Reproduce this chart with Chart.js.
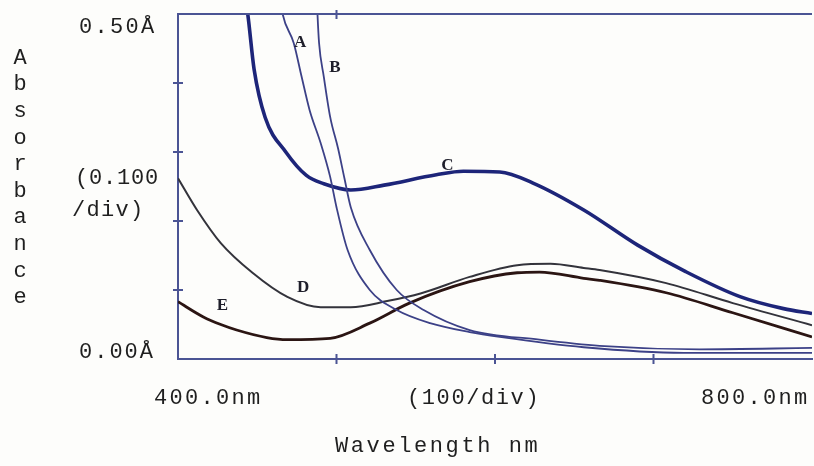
<!DOCTYPE html>
<html>
<head>
<meta charset="utf-8">
<script src="https://cdn.jsdelivr.net/npm/chart.js@4/dist/chart.umd.min.js"></script>
<style>
  html, body { margin: 0; padding: 0; background: #fdfdfb; }
  #wrap { width: 814px; height: 466px; position: relative; }
</style>
</head>
<body>
<div id="wrap"><canvas id="spectra"></canvas></div>
<script>
// wavelength (nm) / absorbance readings per curve
var wlA  = [462, 466, 473, 478, 483, 490, 496, 500, 507, 521, 538, 559, 584, 603, 656, 719, 800];
var absA = [0.56, 0.50, 0.458, 0.409, 0.361, 0.313, 0.264, 0.220, 0.158, 0.100, 0.071, 0.052, 0.039, 0.032, 0.017, 0.009, 0.009];

var wlB  = [487, 488, 489, 492, 496, 501, 505, 509, 521, 538, 555, 584, 628, 666, 729, 800];
var absB = [0.56, 0.50, 0.458, 0.409, 0.351, 0.305, 0.262, 0.220, 0.158, 0.100, 0.071, 0.042, 0.028, 0.019, 0.014, 0.016];

var wlC  = [438, 444, 448, 455, 468, 481, 492, 509, 530, 563, 580, 603, 624, 656, 690, 720, 755, 782, 800];
var absC = [0.58, 0.50, 0.42, 0.35, 0.30, 0.266, 0.254, 0.245, 0.252, 0.267, 0.272, 0.271, 0.255, 0.216, 0.165, 0.127, 0.090, 0.073, 0.066];

var wlD  = [400, 412, 427, 447, 469, 490, 509, 532, 553, 584, 614, 635, 656, 666, 708, 750, 800];
var absD = [0.262, 0.216, 0.168, 0.125, 0.090, 0.075, 0.075, 0.084, 0.095, 0.119, 0.136, 0.138, 0.132, 0.129, 0.110, 0.081, 0.049];

var wlE  = [400, 416, 427, 437, 456, 469, 496, 521, 546, 584, 614, 628, 656, 666, 708, 750, 800];
var absE = [0.083, 0.061, 0.050, 0.042, 0.031, 0.028, 0.030, 0.052, 0.081, 0.112, 0.125, 0.126, 0.117, 0.114, 0.096, 0.067, 0.032];

// curve letters: name, wavelength, absorbance
var curveNames = ["A", "B", "C", "D", "E"];
var nameWl     = [477, 499, 570, 479, 428];
var nameAbs    = [0.459, 0.423, 0.281, 0.103, 0.077];

var yTickLabels = ["0.50Å", "(0.100", "/div)", "0.00Å"];
var xTickLabels = ["400.0nm", "(100/div)", "800.0nm"];
var xTitle = "Wavelength nm";
var yTitle = "Absorbance";

var axisColor = '#4b5494';
var textColor = '#1f1f1f';

function pts(xs, ys) {
    var out = [];
    for (var i = 0; i < xs.length; i++) out.push({x: xs[i], y: ys[i]});
    return out;
}

function mkSet(label, xs, ys, color, width) {
    return {
        label: label, data: pts(xs, ys), borderColor: color, borderWidth: width,
        pointRadius: 0, fill: false, cubicInterpolationMode: 'monotone'
    };
}

// draw a string char by char at a fixed pitch (typewriter look)
function spaced(ctx, txt, x, y, pitch) {
    for (var i = 0; i < txt.length; i++) ctx.fillText(txt[i], x + i * pitch, y);
}

var textPlugin = {
    id: 'textPlugin',
    afterDraw: function(chart) {
        var ctx = chart.ctx, a = chart.chartArea;
        var xs = chart.scales.x, ys = chart.scales.y;
        ctx.save();
        // top frame line
        ctx.strokeStyle = axisColor; ctx.lineWidth = 2;
        ctx.beginPath(); ctx.moveTo(a.left, a.top); ctx.lineTo(a.right, a.top); ctx.stroke();
        // tick marks crossing the axes
        ctx.beginPath();
        [0.1, 0.2, 0.3, 0.4].forEach(function(v) {
            var py = ys.getPixelForValue(v);
            ctx.moveTo(a.left - 5, py); ctx.lineTo(a.left + 5, py);
        });
        [500, 600, 700].forEach(function(v) {
            var px = xs.getPixelForValue(v);
            ctx.moveTo(px, a.bottom - 5); ctx.lineTo(px, a.bottom + 5);
        });
        var tp = xs.getPixelForValue(500);
        ctx.moveTo(tp, a.top - 4); ctx.lineTo(tp, a.top + 5);
        ctx.stroke();

        ctx.fillStyle = textColor;
        ctx.font = '22px "Liberation Mono", "Courier New", monospace';
        ctx.textBaseline = 'middle';
        ctx.textAlign = 'left';
        spaced(ctx, yTickLabels[0], 79, 27, 15.5);
        spaced(ctx, yTickLabels[1], 75, 178, 14);
        spaced(ctx, yTickLabels[2], 72, 210, 14.5);
        spaced(ctx, yTickLabels[3], 79, 352, 15.2);

        spaced(ctx, xTickLabels[0], 154, 398, 15.5);
        spaced(ctx, xTickLabels[1], 407, 398, 14.8);
        spaced(ctx, xTickLabels[2], 701, 398, 15.5);

        spaced(ctx, xTitle, 335, 446, 15.8);

        ctx.textAlign = 'center';
        for (var i = 0; i < yTitle.length; i++) ctx.fillText(yTitle[i], 20, 58 + i * 26.6);

        // curve letters
        ctx.font = 'bold 17px "Liberation Serif", "DejaVu Serif", serif';
        ctx.fillStyle = '#1e1e2a';
        for (var j = 0; j < curveNames.length; j++) {
            ctx.fillText(curveNames[j], xs.getPixelForValue(nameWl[j]), ys.getPixelForValue(nameAbs[j]));
        }
        ctx.restore();
    }
};

new Chart(document.getElementById('spectra').getContext('2d'), {
    type: 'line',
    data: {
        datasets: [
            mkSet('A', wlA, absA, '#3c4187', 1.8),
            mkSet('B', wlB, absB, '#3c4187', 1.8),
            mkSet('C', wlC, absC, '#1d2579', 3.6),
            mkSet('D', wlD, absD, '#33333b', 2.0),
            mkSet('E', wlE, absE, '#2b1513', 2.8)
        ]
    },
    options: {
        responsive: true,
        maintainAspectRatio: false,
        animation: false,
        layout: {padding: {top: 14, right: 2, left: 0, bottom: 0}},
        plugins: {legend: {display: false}, tooltip: {enabled: false}},
        scales: {
            x: {
                type: 'linear', min: 400, max: 800,
                ticks: {display: false},
                grid: {display: false},
                border: {display: true, color: axisColor, width: 2},
                afterFit: function(s) { s.height = 107; }
            },
            y: {
                min: 0, max: 0.5,
                ticks: {display: false},
                grid: {display: false},
                border: {display: true, color: axisColor, width: 2},
                afterFit: function(s) { s.width = 178; }
            }
        }
    },
    plugins: [textPlugin]
});
</script>
</body>
</html>
